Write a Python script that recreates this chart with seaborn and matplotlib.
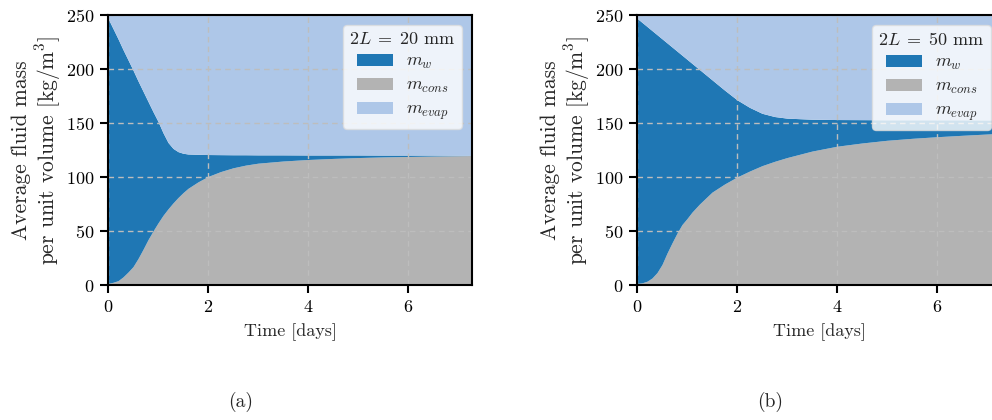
import matplotlib
matplotlib.use("Agg")
import matplotlib.pyplot as plt
import seaborn as sns
import numpy as np
import pandas as pd

# --- data: cumulative boundaries of the stacked areas [kg/m^3] vs time [days] ---
t_a = [0, 0.1, 0.2, 0.3, 0.4, 0.5, 0.6, 0.7, 0.8, 0.9, 1.0, 1.1, 1.2, 1.3,
       1.4, 1.5, 1.6, 1.8, 2.0, 2.25, 2.5, 2.75, 3.0, 3.5, 4.0, 4.5, 5.0,
       5.5, 6.0, 6.5, 7.0, 7.3]
cons_a = [1.5, 2.5, 4, 7.5, 12, 17, 24.5, 33, 42, 50, 57.5, 64.5, 70.5, 76,
          81, 85.5, 89.5, 95.5, 100.5, 105, 108.5, 111, 112.8, 114.8, 116.2,
          117.2, 118, 118.6, 119, 119.4, 119.7, 119.9]
liquid_top_a = [247, 237.5, 228, 218, 208.5, 199, 189, 179.5, 170, 160.5,
                151.5, 141, 132, 126.5, 123.5, 122, 121.3, 121, 120.8, 120.7,
                120.6, 120.6, 120.5, 120.5, 120.4, 120.4, 120.4, 120.3,
                120.3, 120.3, 120.2, 120.2]

t_b = [0, 0.1, 0.2, 0.3, 0.4, 0.5, 0.6, 0.7, 0.8, 0.9, 1.0, 1.1, 1.25, 1.5,
       1.75, 2.0, 2.25, 2.5, 2.75, 3.0, 3.5, 4.0, 4.5, 5.0, 5.5, 6.0, 6.5,
       7.0, 7.3]
cons_b = [1.5, 2, 3.5, 6.5, 11.5, 19, 29.5, 39, 48, 56, 61.5, 67.5, 75, 86,
          93.5, 100, 105.5, 110.5, 114.5, 118, 124, 128.5, 131.5, 134, 135.8,
          137.3, 138.6, 139.8, 140.5]
liquid_top_b = [247, 243.2, 239.4, 235.6, 231.8, 228, 224.2, 220.4, 216.6,
                212.8, 209, 205.2, 199.5, 190, 180.5, 171.5, 164.5, 159, 156,
                154.5, 153.5, 153.2, 153.1, 153, 153, 153, 153, 152.9, 152.9]

total_mass = 250.0
half_thickness = ["20", "50"]
panel_tags = ["(a)", "(b)"]
tag_x = [241, 770]

colors = {"w": "#1f77b4", "cons": "#b3b3b3", "evap": "#aec7e8"}

sns.set_theme(style="ticks")
plt.rcParams.update({
    "font.family": ["serif"],
    "font.serif": ["cmr10", "DejaVu Serif"],
    "mathtext.fontset": "cm",
    "axes.formatter.use_mathtext": True,
    "axes.unicode_minus": False,
})

fig = plt.figure(figsize=(9.92, 4.2), dpi=100)
W = 364 / 992
H = 270 / 420
positions = [[108 / 992, 1 - 285 / 420, W, H],
             [637 / 992, 1 - 285 / 420, W, H]]

panels = [(t_a, cons_a, liquid_top_a), (t_b, cons_b, liquid_top_b)]

for i, (t, cons, top) in enumerate(panels):
    ax = fig.add_axes(positions[i])
    df = pd.DataFrame({"t": t, "cons": cons, "top": top})
    df["w"] = df["top"] - df["cons"]
    df["evap"] = total_mass - df["top"]

    polys = ax.stackplot(df["t"], df["cons"], df["w"], df["evap"],
                         colors=[colors["cons"], colors["w"], colors["evap"]],
                         linewidth=0)
    ax.set_xlim(0, 7.28)
    ax.set_ylim(0, 250)
    ax.set_xticks([0, 2, 4, 6])
    ax.set_yticks([0, 50, 100, 150, 200, 250])
    # grid above the filled areas but below the spines
    ax.set_axisbelow("line")
    ax.grid(True, color="#bdbdbd", linestyle=(0, (4, 3)), linewidth=1.0)

    for s in ax.spines.values():
        s.set_linewidth(1.5)
        s.set_color("black")
        s.set_zorder(3)
    ax.tick_params(direction="out", length=6, width=1.5, labelsize=13,
                   colors="black", pad=4)

    ax.set_xlabel("Time [days]", fontsize=13, labelpad=6)
    ax.set_ylabel("Average fluid mass\nper unit volume [kg/m$^3$]",
                  fontsize=15.5, labelpad=2, linespacing=1.1)

    leg = ax.legend([polys[1], polys[0], polys[2]],
                    [r"$m_w$", r"$m_{cons}$", r"$m_{evap}$"],
                    title=rf"$2L\;=\;{half_thickness[i]}$ mm",
                    loc="upper right", fontsize=13, title_fontsize=13,
                    handlelength=2.0, handleheight=0.7, framealpha=0.8,
                    borderaxespad=0.55, labelspacing=0.35, borderpad=0.35,
                    handletextpad=0.7)
    leg.get_frame().set_edgecolor("#dddddd")

    fig.text(tag_x[i] / 992, 1 - 402 / 420, panel_tags[i],
             ha="center", va="center", fontsize=14)

fig.savefig("out.png", dpi=100)
